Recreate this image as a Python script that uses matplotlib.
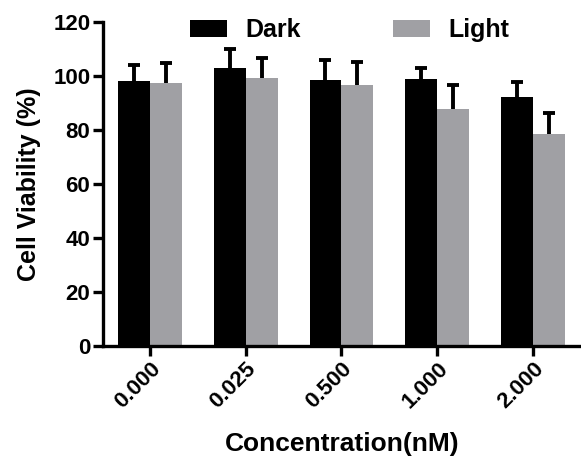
import matplotlib
matplotlib.use("Agg")
import matplotlib.pyplot as plt
import numpy as np

# --- data ---
concentrations = ["0.000", "0.025", "0.500", "1.000", "2.000"]
dark_mean = [98.1, 102.8, 98.4, 98.8, 92.3]
dark_err = [5.9, 7.3, 7.4, 4.2, 5.6]
light_mean = [97.5, 99.1, 96.8, 87.9, 78.4]
light_err = [7.2, 7.4, 8.4, 8.8, 7.8]

plt.rcParams['font.family'] = ['Liberation Sans', 'DejaVu Sans']
plt.rcParams['font.weight'] = 'bold'

fig = plt.figure(figsize=(5.81, 4.65), dpi=100)
ax = fig.add_axes([0.177, 0.256, 0.823, 0.697])

x = np.arange(len(concentrations))
w = 0.333


# --- bars with upper-only error bars ---
def draw_group(pos, means, errs, color, label):
    ax.bar(pos, means, w, color=color, label=label, zorder=2)
    _, caps, _ = ax.errorbar(pos, means, yerr=[np.zeros(len(errs)), errs], fmt='none',
                             ecolor='black', elinewidth=2.8, capsize=4, capthick=2.8,
                             zorder=1)
    caps[0].set_visible(False)  # hide the lower cap


draw_group(x - w / 2, dark_mean, dark_err, 'black', 'Dark')
draw_group(x + w / 2, light_mean, light_err, '#a0a0a4', 'Light')

ax.set_ylim(0, 120)
ax.set_xlim(-0.49, 4.5)
ax.set_yticks(range(0, 121, 20))
ax.set_xticks(x)
ax.set_xticklabels(concentrations, rotation=45, ha='right', rotation_mode='anchor',
                   fontsize=16, fontweight='bold')
for lbl in ax.get_yticklabels():
    lbl.set_fontsize(16)
    lbl.set_fontweight('bold')

for side in ['top', 'right']:
    ax.spines[side].set_visible(False)
for side in ['left', 'bottom']:
    ax.spines[side].set_linewidth(2.4)
ax.tick_params(axis='both', width=2.4, length=7, pad=2)

ax.set_ylabel('Cell Viability (%)', fontsize=18, fontweight='bold', labelpad=9)
ax.set_xlabel('Concentration(nM)', fontsize=19, fontweight='bold', labelpad=14)

ax.legend(loc='upper left', bbox_to_anchor=(190 / 581, 1 - 18 / 465),
          bbox_transform=fig.transFigure, ncol=2, frameon=False,
          fontsize=18, handlelength=1.48, handleheight=0.68, columnspacing=3.7,
          handletextpad=0.72, borderpad=0, borderaxespad=0)

fig.savefig('out.png', dpi=100)
